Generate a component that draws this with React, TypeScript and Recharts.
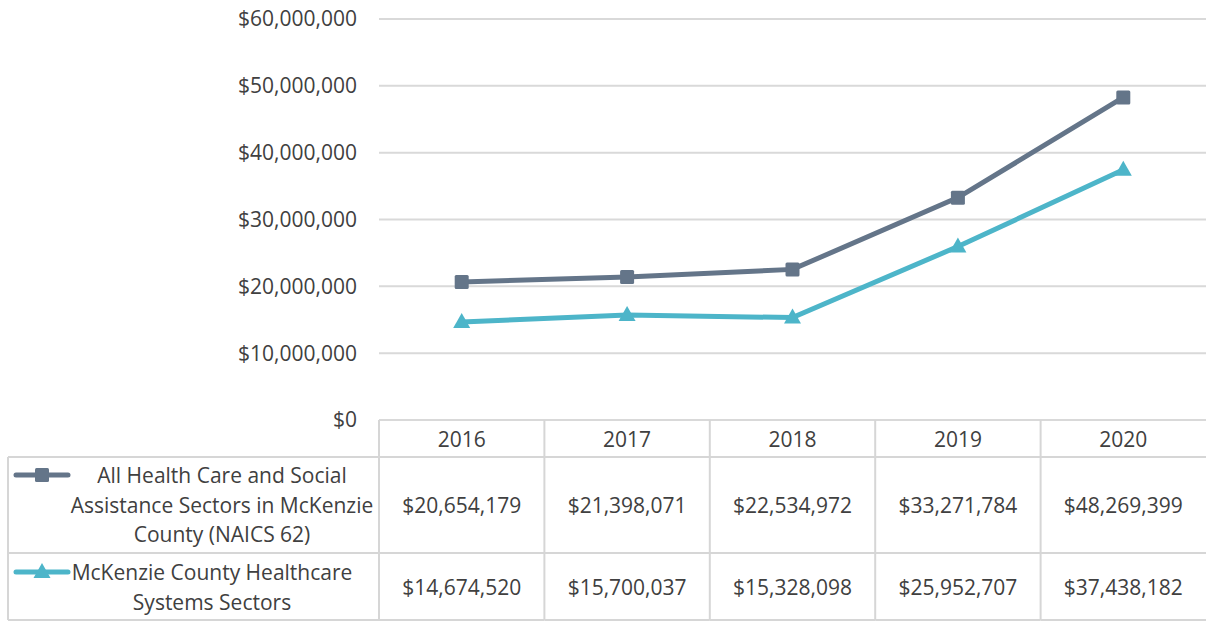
import React from 'react';
import { LineChart, Line, XAxis, YAxis, CartesianGrid } from 'recharts';

const categories = ['2016', '2017', '2018', '2019', '2020'];
const allHealthValues = [20654179, 21398071, 22534972, 33271784, 48269399];
const systemsValues = [14674520, 15700037, 15328098, 25952707, 37438182];
const yTicks = [0, 10000000, 20000000, 30000000, 40000000, 50000000, 60000000];
const seriesOneLabel = ['All Health Care and Social', 'Assistance Sectors in McKenzie', 'County (NAICS 62)'];
const seriesTwoLabel = ['McKenzie County Healthcare', 'Systems Sectors'];

const data = categories.map((c, i) => ({ year: c, all: allHealthValues[i], systems: systemsValues[i] }));

const W = 1206;
const H = 622;
const PLOT_LEFT = 379;
const PLOT_TOP = 19;
const PLOT_BOTTOM = 420;
const COL_W = (W - PLOT_LEFT) / categories.length;
const ROW1_TOP = 457;
const ROW2_TOP = 553;
const TABLE_BOTTOM = 620;
const C1 = '#647589';
const C2 = '#4db5c9';
const TEXT = '#404040';
const BORDER = '#d6d6d6';
const FONT = '"Open Sans", sans-serif';
const FS = 21;
const FW = 400;

const fmt = (v: number) => '$' + v.toLocaleString('en-US');

const TableTick = (props: any) => {
  const { x, y, index } = props;
  const left = x - COL_W / 2;
  const right = x + COL_W / 2;
  const top = y;
  return (
    <g>
      <line x1={left} x2={left} y1={top} y2={TABLE_BOTTOM} stroke={BORDER} strokeWidth={2} />
      <line x1={left} x2={right} y1={ROW1_TOP} y2={ROW1_TOP} stroke={BORDER} strokeWidth={2} />
      <line x1={left} x2={right} y1={ROW2_TOP} y2={ROW2_TOP} stroke={BORDER} strokeWidth={2} />
      <line x1={left} x2={right} y1={TABLE_BOTTOM} y2={TABLE_BOTTOM} stroke={BORDER} strokeWidth={2} />
      <text x={x} y={(top + ROW1_TOP) / 2} textAnchor="middle" dominantBaseline="central" fill={TEXT} fontSize={FS} fontWeight={FW} fontFamily={FONT}>
        {categories[index]}
      </text>
      <text x={x} y={(ROW1_TOP + ROW2_TOP) / 2} textAnchor="middle" dominantBaseline="central" fill={TEXT} fontSize={FS} fontWeight={FW} fontFamily={FONT}>
        {fmt(allHealthValues[index])}
      </text>
      <text x={x} y={(ROW2_TOP + TABLE_BOTTOM) / 2} textAnchor="middle" dominantBaseline="central" fill={TEXT} fontSize={FS} fontWeight={FW} fontFamily={FONT}>
        {fmt(systemsValues[index])}
      </text>
    </g>
  );
};

const SquareDot = (props: any) => {
  const { cx, cy, index } = props;
  if (cx == null || cy == null) return <g key={`s-${index}`} />;
  return <rect key={`s-${index}`} x={cx - 7} y={cy - 7} width={14} height={14} rx={1.5} fill={C1} />;
};

const TriangleDot = (props: any) => {
  const { cx, cy, index } = props;
  if (cx == null || cy == null) return <g key={`t-${index}`} />;
  return <path key={`t-${index}`} d={`M${cx},${cy - 9} L${cx + 8.5},${cy + 6} L${cx - 8.5},${cy + 6} Z`} fill={C2} />;
};

const LeftPanel = () => (
  <svg width={W} height={H} style={{ position: 'absolute', left: 0, top: 0, pointerEvents: 'none' }}>
    <line x1={8} x2={PLOT_LEFT} y1={ROW1_TOP} y2={ROW1_TOP} stroke={BORDER} strokeWidth={2} />
    <line x1={8} x2={PLOT_LEFT} y1={ROW2_TOP} y2={ROW2_TOP} stroke={BORDER} strokeWidth={2} />
    <line x1={8} x2={PLOT_LEFT} y1={TABLE_BOTTOM} y2={TABLE_BOTTOM} stroke={BORDER} strokeWidth={2} />
    <line x1={8} x2={8} y1={ROW1_TOP} y2={TABLE_BOTTOM} stroke={BORDER} strokeWidth={2} />
    <line x1={16} x2={68} y1={475} y2={475} stroke={C1} strokeWidth={5} strokeLinecap="round" />
    <rect x={35} y={468} width={14} height={14} rx={1.5} fill={C1} />
    <line x1={16} x2={68} y1={572} y2={572} stroke={C2} strokeWidth={5} strokeLinecap="round" />
    <path d="M42,563 L50.5,578 L33.5,578 Z" fill={C2} />
    {seriesOneLabel.map((t, i) => (
      <text key={t} x={222} y={475 + i * 29.5} textAnchor="middle" dominantBaseline="central" fill={TEXT} fontSize={FS} fontWeight={FW} fontFamily={FONT}>
        {t}
      </text>
    ))}
    {seriesTwoLabel.map((t, i) => (
      <text key={t} x={212} y={572 + i * 30} textAnchor="middle" dominantBaseline="central" fill={TEXT} fontSize={FS} fontWeight={FW} fontFamily={FONT}>
        {t}
      </text>
    ))}
  </svg>
);

export default function App() {
  return (
    <div style={{ position: 'absolute', left: 0, top: 0, width: W, height: H, background: '#fff' }}>
      <LineChart width={W} height={H} data={data} margin={{ top: PLOT_TOP, right: 0, left: 0, bottom: 0 }}>
        <CartesianGrid vertical={false} stroke="#d9d9d9" strokeWidth={2} />
        <XAxis
          dataKey="year"
          height={H - PLOT_BOTTOM}
          axisLine={false}
          tickLine={false}
          tickSize={0}
          tickMargin={0}
          padding={{ left: COL_W / 2, right: COL_W / 2 }}
          interval={0}
          tick={<TableTick />}
        />
        <YAxis
          width={PLOT_LEFT}
          domain={[0, 60000000]}
          ticks={yTicks}
          axisLine={false}
          tickLine={false}
          tickSize={0}
          tickMargin={22}
          tickFormatter={(v: number) => fmt(v)}
          tick={{ fill: TEXT, fontSize: FS, fontWeight: FW, fontFamily: FONT }}
        />
        <Line type="linear" dataKey="all" stroke={C1} strokeWidth={5} dot={<SquareDot />} activeDot={false} isAnimationActive={false} />
        <Line type="linear" dataKey="systems" stroke={C2} strokeWidth={5} dot={<TriangleDot />} activeDot={false} isAnimationActive={false} />
      </LineChart>
      <LeftPanel />
    </div>
  );
}
